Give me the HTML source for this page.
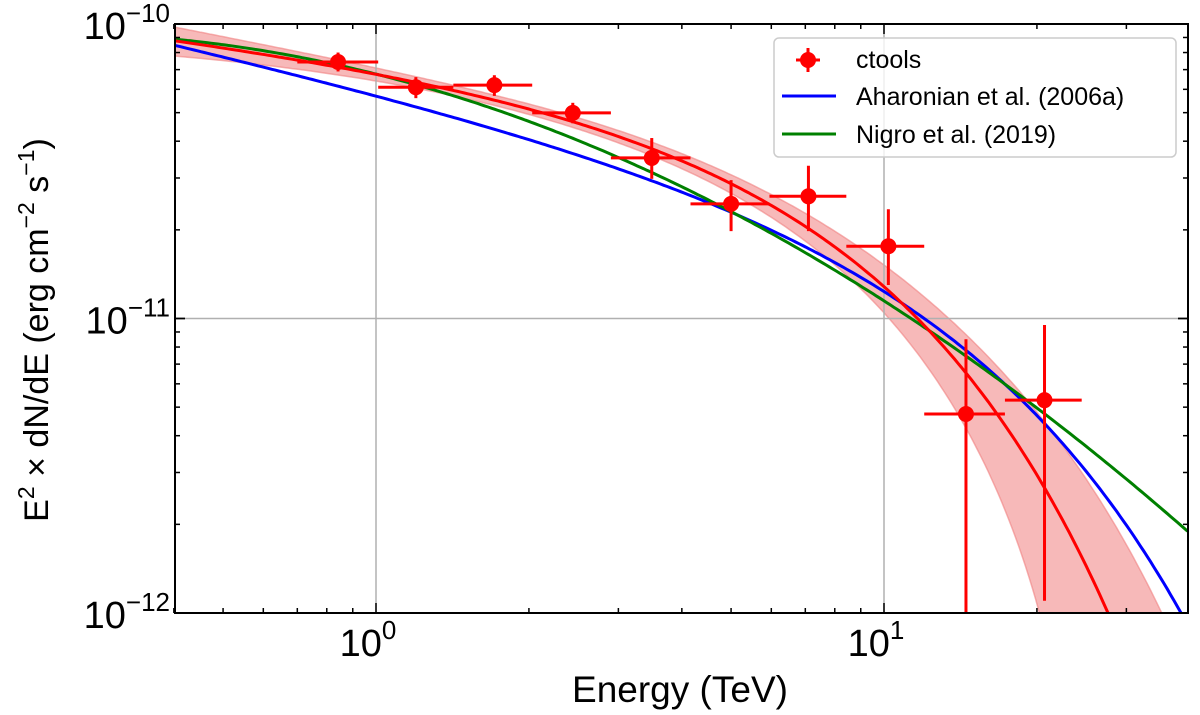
<!DOCTYPE html>
<html><head><meta charset="utf-8"><style>
html,body{margin:0;padding:0;background:#fff;overflow:hidden;width:1200px;height:715px;}
svg{display:block;font-family:"Liberation Sans","DejaVu Sans",sans-serif;}
</style></head><body>
<svg id="chart" width="1200" height="715" viewBox="0 0 1200 715" xmlns="http://www.w3.org/2000/svg">
<g id="band"></g>
<g id="grid"></g>
<g id="curves"></g>
<g id="points"></g>
<g id="axes"></g>
<text x="680" y="702" font-size="37" text-anchor="middle">Energy (TeV)</text>
<text transform="translate(48,330) rotate(-90)" font-size="34" text-anchor="middle">E<tspan font-size="23" dy="-14">2</tspan><tspan dy="14"> × dN/dE (erg cm</tspan><tspan font-size="23" dy="-14">−2</tspan><tspan dy="14"> s</tspan><tspan font-size="23" dy="-14">−1</tspan><tspan dy="14">)</tspan></text>
<g>
<rect x="774" y="38" width="402" height="119" rx="5" fill="#fff" fill-opacity="0.8" stroke="#ccc" stroke-width="1.5"/>
<g>
<line x1="808" y1="48" x2="808" y2="72" stroke="red" stroke-width="3"/>
<line x1="796" y1="60" x2="820" y2="60" stroke="red" stroke-width="3"/>
<circle cx="808" cy="60" r="8" fill="red"/>
<text x="856" y="68" font-size="25">ctools</text></g>
<g>
<line x1="782" y1="96" x2="836" y2="96" stroke="blue" stroke-width="3"/>
<text x="856" y="105" font-size="25">Aharonian et al. (2006a)</text></g>
<g>
<line x1="782" y1="134" x2="836" y2="134" stroke="green" stroke-width="3"/>
<text x="856" y="143" font-size="25">Nigro et al. (2019)</text></g>
</g>
</svg>
<script>
// data
const energies=[0.842,1.198,1.71,2.44,3.49,5.0,7.1,10.2,14.5,20.7];
const eLow=[0.70,1.01,1.42,2.03,2.90,4.16,5.95,8.43,12.0,17.3];
const eHigh=[1.01,1.42,2.03,2.90,4.16,5.95,8.43,12.0,17.3,24.5];
const fluxes=[7.43e-11,6.1e-11,6.2e-11,4.99e-11,3.51e-11,2.45e-11,2.6e-11,1.76e-11,4.74e-12,5.28e-12];
const fluxLow=[6.9e-11,5.6e-11,5.7e-11,4.6e-11,2.98e-11,1.98e-11,1.98e-11,1.3e-11,1e-12,1.1e-12];
const fluxHigh=[8.0e-11,6.6e-11,6.7e-11,5.4e-11,4.1e-11,2.95e-11,3.3e-11,2.35e-11,8.5e-12,9.5e-12];
const xTickLabels=["0","1"];
const yTickLabels=["−12","−11","−10"];
const aharonianParams=[6.1e-11,0.39,14.3];   // norm, index-2, cutoff
const nigroParams=[-10.17,-0.4325,-0.3375];  // log-parabola coefficients
const fitParams=[-10.113,0.2,7.5];           // log norm, index-2, cutoff

const X0=175,X1=1188,Y0=24,Y1=613,XMIN=0.4,XMAX=39.6;
const xs=e=>376+508*Math.log10(e);
const ys=f=>24+294.5*(-10-Math.log10(f));
const NS="http://www.w3.org/2000/svg";
function mk(tag,attrs,parent){const el=document.createElementNS(NS,tag);for(const k in attrs)el.setAttribute(k,attrs[k]);parent.appendChild(el);return el;}
const g=id=>document.getElementById(id);

const ahar=e=>aharonianParams[0]*Math.pow(e,-aharonianParams[1])*Math.exp(-e/aharonianParams[2]);
const nigro=e=>{const L=Math.log10(e);return Math.pow(10,nigroParams[0]+nigroParams[1]*L+nigroParams[2]*L*L);};
const fit=e=>Math.pow(10,fitParams[0]-fitParams[1]*Math.log10(e)-0.4343*e/fitParams[2]);
const rel=e=>{const Lr=Math.min(Math.log10(e/2),0);return 0.035+0.16*Lr*Lr+0.0015*e*e;};

const cp=mk('clipPath',{id:'clip'},g('chart'));mk('rect',{x:X0,y:Y0,width:X1-X0,height:Y1-Y0},cp);
['band','curves','points'].forEach(id=>g(id).setAttribute('clip-path','url(#clip)'));

function sample(fn){const pts=[];for(let i=0;i<=300;i++){const e=XMIN*Math.pow(XMAX/XMIN,i/300);pts.push([e,fn(e)]);}return pts;}
function pathOf(pts){return pts.map((p,i)=>(i?'L':'M')+xs(p[0]).toFixed(1)+','+Math.min(ys(Math.max(p[1],1e-14)),700).toFixed(1)).join('');}

// band
const up=sample(e=>fit(e)*(1+rel(e))),lo=sample(e=>fit(e)*Math.max(1-rel(e),1e-4));
const bd=pathOf(up)+pathOf(lo.reverse()).replace('M','L')+'Z';
let el=mk('path',{d:bd,fill:'#f08080','fill-opacity':'0.55',stroke:'#f08080','stroke-opacity':'0.6','stroke-width':'1.5'},g('band'));



// grid
[1,10].forEach(e=>{const l=mk('line',{x1:xs(e),x2:xs(e),y1:Y0,y2:Y1,stroke:'#b0b0b0','stroke-width':'1.5'},g('grid'));});
[1e-11].forEach(f=>{const l=mk('line',{x1:X0,x2:X1,y1:ys(f),y2:ys(f),stroke:'#b0b0b0','stroke-width':'1.5'},g('grid'));});

// curves
el=mk('path',{d:pathOf(sample(ahar)),fill:'none',stroke:'blue','stroke-width':'3'},g('curves'));


el=mk('path',{d:pathOf(sample(nigro)),fill:'none',stroke:'green','stroke-width':'3'},g('curves'));


el=mk('path',{d:pathOf(sample(fit)),fill:'none',stroke:'red','stroke-width':'3'},g('curves'));



// points
energies.forEach((e,i)=>{
 const pg=mk('g',{},g('points'));
 
 
 mk('line',{x1:xs(eLow[i]),x2:xs(eHigh[i]),y1:ys(fluxes[i]),y2:ys(fluxes[i]),stroke:'red','stroke-width':'3'},pg);
 mk('line',{x1:xs(e),x2:xs(e),y1:ys(fluxLow[i]),y2:ys(fluxHigh[i]),stroke:'red','stroke-width':'3'},pg);
 mk('circle',{cx:xs(e),cy:ys(fluxes[i]),r:8,fill:'red'},pg);
});

// axes
const ax=g('axes');
mk('rect',{x:X0,y:Y0,width:X1-X0,height:Y1-Y0,fill:'none',stroke:'#000','stroke-width':'2'},ax);
for(let d=-1;d<=1;d++)for(let m=1;m<10;m++){const e=m*Math.pow(10,d);if(e<XMIN||e>XMAX)continue;const x=xs(e),len=m==1?10:5;
 mk('line',{x1:x,x2:x,y1:Y1,y2:Y1-len,stroke:'#000','stroke-width':'1.5'},ax);mk('line',{x1:x,x2:x,y1:Y0,y2:Y0+len,stroke:'#000','stroke-width':'1.5'},ax);}
for(let d=-12;d<=-11;d++)for(let m=1;m<=10;m++){const f=m*Math.pow(10,d);const y=ys(f),len=(m==1||m==10)?10:5;
 mk('line',{x1:X0,x2:X0+len,y1:y,y2:y,stroke:'#000','stroke-width':'1.5'},ax);mk('line',{x1:X1,x2:X1-len,y1:y,y2:y,stroke:'#000','stroke-width':'1.5'},ax);}
xTickLabels.forEach(t=>{const e=Math.pow(10,+t);const tx=mk('text',{x:xs(e)-8,y:656,'font-size':'38','text-anchor':'middle'},ax);
 
 tx.innerHTML='10<tspan font-size="26" dy="-17">'+t+'</tspan>';});
yTickLabels.forEach(t=>{const f=Math.pow(10,-parseFloat(t.replace('−','')));const y=ys(f);const tx=mk('text',{x:170,y:y+15,'font-size':'38','text-anchor':'end'},ax);
 
 tx.innerHTML='10<tspan font-size="26" dy="-17">'+t+'</tspan>';});
</script>
</body></html>
